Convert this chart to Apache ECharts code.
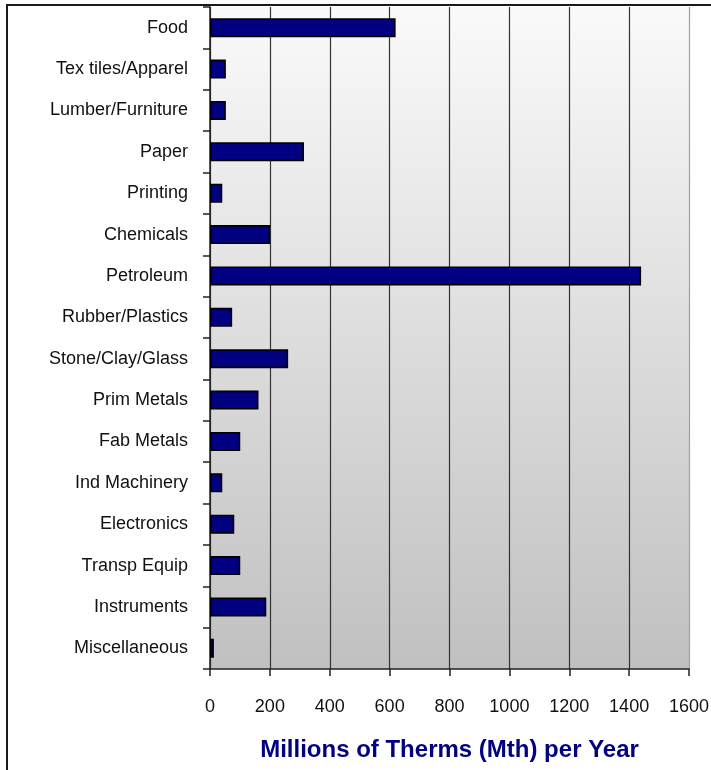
<!DOCTYPE html>
<html>
<head>
<meta charset="utf-8">
<script src="https://cdn.jsdelivr.net/npm/echarts@6/dist/echarts.min.js"></script>
<style>
html,body{margin:0;padding:0;background:#fff;}
#chart{width:711px;height:770px;}
</style>
</head>
<body>
<div id="chart"></div>
<script>
var categories = ["Food","Tex tiles/Apparel","Lumber/Furniture","Paper","Printing","Chemicals","Petroleum","Rubber/Plastics","Stone/Clay/Glass","Prim Metals","Fab Metals","Ind Machinery","Electronics","Transp Equip","Instruments","Miscellaneous"];
var values = [620, 53, 53, 314, 41, 201, 1440, 74, 261, 162, 101, 41, 81, 101, 188, 13];
var xTicks = [0, 200, 400, 600, 800, 1000, 1200, 1400, 1600];
var axisTitle = "Millions of Therms (Mth) per Year";

var labelFont = '"Liberation Sans", Arial, sans-serif';
var chart = echarts.init(document.getElementById('chart'));
chart.setOption({
  animation: false,
  backgroundColor: '#fff',
  graphic: [{
    type: 'rect',
    shape: {x: 7, y: 5, width: 720, height: 790},
    style: {fill: 'none', stroke: '#1a1a1a', lineWidth: 2},
    z: 100
  }],
  grid: {
    left: 210, right: 22, top: 7, bottom: 101,
    outerBoundsMode: 'none',
    containLabel: false,
    show: true,
    borderWidth: 0,
    backgroundColor: {
      type: 'linear', x: 0, y: 0, x2: 0, y2: 1,
      colorStops: [{offset: 0, color: '#fafafa'}, {offset: 1, color: '#c0c0c0'}]
    }
  },
  xAxis: {
    type: 'value',
    min: xTicks[0], max: xTicks[xTicks.length - 1], interval: xTicks[1] - xTicks[0],
    axisLine: {show: true, lineStyle: {color: '#222', width: 1.5}},
    axisTick: {show: true, length: 7, lineStyle: {color: '#222', width: 1.5}},
    axisLabel: {fontFamily: labelFont, fontSize: 18, color: '#111', margin: 29,
      formatter: function (v) { return String(v); }},
    splitLine: {show: true, lineStyle: {color: ['#333','#333','#333','#333','#333','#333','#333','#333','#a0a0a0'], width: 1.2}},
    name: axisTitle,
    nameLocation: 'middle',
    nameGap: 69,
    nameTextStyle: {fontFamily: labelFont, fontWeight: 'bold', fontSize: 24, color: '#000080'}
  },
  yAxis: {
    type: 'category',
    inverse: true,
    data: categories,
    axisLine: {show: true, lineStyle: {color: '#222', width: 1.5}},
    axisTick: {show: true, length: 7, lineStyle: {color: '#222', width: 1.5}},
    axisLabel: {fontFamily: labelFont, fontSize: 18, color: '#111', margin: 22, padding: [0, 0, 6, 0]},
    splitLine: {show: false}
  },
  series: [{
    type: 'bar',
    data: values,
    barWidth: 19,
    itemStyle: {color: '#000080', borderColor: '#000', borderWidth: 1.6}
  }]
});
</script>
</body>
</html>
